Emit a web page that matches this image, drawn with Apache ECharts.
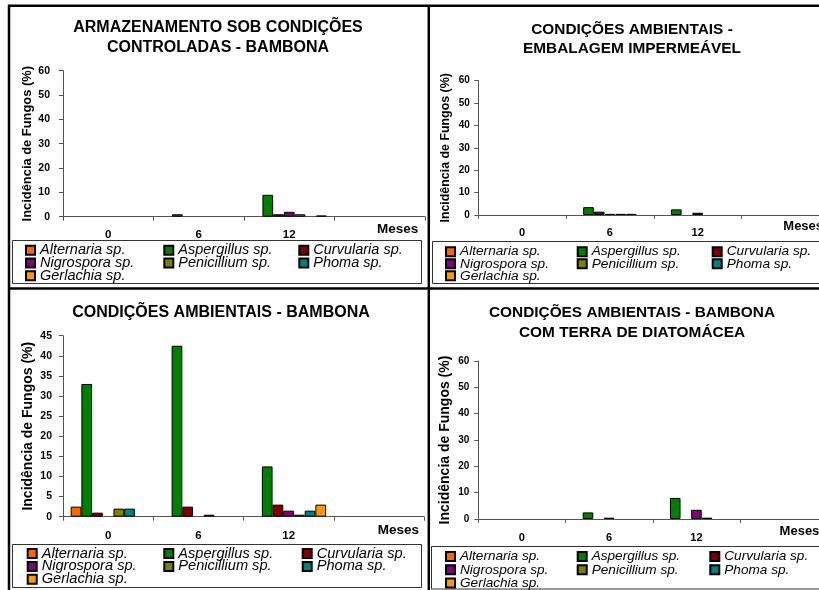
<!DOCTYPE html>
<html>
<head>
<meta charset="utf-8">
<script src="https://cdn.jsdelivr.net/npm/echarts@6/dist/echarts.min.js"></script>
<style>
  html, body { margin: 0; padding: 0; background: #fff; }
  #chart { width: 819px; height: 590px; }
</style>
</head>
<body>
<div id="chart"></div>
<script>
// Months of storage (the last slot is left empty)
const months = ['0', '6', '12', ''];

const species = ['Alternaria sp.', 'Aspergillus sp.', 'Curvularia sp.', 'Nigrospora sp.',
                 'Penicillium sp.', 'Phoma sp.', 'Gerlachia sp.'];
const speciesColors = ['#FF6600', '#008000', '#800000', '#800080', '#808000', '#008080', '#FF9900'];

// Fungal incidence (%) – one row per species, values for months 0, 6, 12
const controladasBambona = [
  [0, 0, 0],     // Alternaria
  [0, 1, 9],     // Aspergillus
  [0, 0, 1],     // Curvularia
  [0, 0, 2],     // Nigrospora
  [0, 0, 1],     // Penicillium
  [0, 0, 0],     // Phoma
  [0, 0, 0.5]    // Gerlachia
];
const embalagemImpermeavel = [
  [0, 0, 0],
  [0, 3.5, 2.5],
  [0, 1.5, 0],
  [0, 0.5, 1],
  [0, 0.5, 0],
  [0, 0.5, 0],
  [0, 0, 0]
];
const ambientaisBambona = [
  [2.5, 0, 0],
  [33, 42.5, 12.5],
  [1, 2.5, 3],
  [0, 0, 1.5],
  [2, 0.5, 0.5],
  [2, 0, 1.5],
  [0, 0, 3]
];
const bambonaDiatomacea = [
  [0, 0, 0],
  [0, 2.5, 8],
  [0, 0, 0],
  [0, 0.5, 3.5],
  [0, 0, 0.5],
  [0, 0, 0],
  [0, 0, 0]
];

const yTicks60 = { max: 60, interval: 10 };
const yTicks45 = { max: 45, interval: 5 };

const FONT = "'Liberation Sans', Arial, Helvetica, sans-serif";

// Layout of the four panels
const panels = [
  {
    data: controladasBambona, ticks: yTicks60,
    title: 'ARMAZENAMENTO SOB CONDIÇÕES\nCONTROLADAS - BAMBONA',
    titleX: 218, titleTop: 18.4, titleSize: 16, titleLH: 19.3,
    grid: { left: 63, top: 70.7, width: 362, height: 146 }, gap: '17%',
    yLabelSize: 10.5, yLabelMargin: 13, xLabelSize: 11.5, xLabelMargin: 11.8,
    nameSize: 12.9, nameGap: 29, mesesGap: -48, mesesOffset: 12.5, mesesSize: 13.5,
    legendCols: [25, 163.3, 298.3], legendRow1: 250, legendPitch: 12.3, legendSize: 14.5
  },
  {
    data: embalagemImpermeavel, ticks: yTicks60,
    title: 'CONDIÇÕES AMBIENTAIS -\nEMBALAGEM IMPERMEÁVEL',
    titleX: 632, titleTop: 20, titleSize: 15.4, titleLH: 19.4,
    grid: { left: 478.3, top: 80.7, width: 351, height: 134.3 }, gap: '14.5%',
    yLabelSize: 10, yLabelMargin: 8.5, xLabelSize: 11, xLabelMargin: 12.8,
    nameSize: 12.4, nameGap: 26.6, mesesGap: -46, mesesOffset: 11.7, mesesSize: 13,
    legendCols: [445, 576.7, 711.7], legendRow1: 251.5, legendPitch: 11.8, legendSize: 13.7
  },
  {
    data: ambientaisBambona, ticks: yTicks45,
    title: 'CONDIÇÕES AMBIENTAIS - BAMBONA',
    titleX: 221, titleTop: 302.7, titleSize: 16, titleLH: 19,
    grid: { left: 63, top: 335.7, width: 361, height: 181 }, gap: '17%',
    yLabelSize: 10.5, yLabelMargin: 11, xLabelSize: 11.5, xLabelMargin: 13.3,
    nameSize: 14, nameGap: 28.3, mesesGap: -46.3, mesesOffset: 13.3, mesesSize: 13.5,
    legendCols: [26.7, 163.3, 301.7], legendRow1: 553.3, legendPitch: 12.5, legendSize: 14.6
  },
  {
    data: bambonaDiatomacea, ticks: yTicks60,
    title: 'CONDIÇÕES AMBIENTAIS - BAMBONA\nCOM TERRA DE DIATOMÁCEA',
    titleX: 632, titleTop: 303.3, titleSize: 15.4, titleLH: 19.8,
    grid: { left: 478.3, top: 361, width: 349, height: 158 }, gap: '15%',
    yLabelSize: 10, yLabelMargin: 9, xLabelSize: 11, xLabelMargin: 13.5,
    nameSize: 14, nameGap: 25.8, mesesGap: -47.7, mesesOffset: 12.7, mesesSize: 13,
    legendCols: [445, 576.7, 709.3], legendRow1: 556.4, legendPitch: 12.8, legendSize: 13.6
  }
];

// Legend columns: species indices stacked in each column
const legendColumns = [[0, 3, 6], [1, 4], [2, 5]];

const AXIS_COLOR = '#555';

const titles = [], grids = [], xAxes = [], yAxes = [], series = [], legends = [];

panels.forEach((p, i) => {
  titles.push({
    text: p.title,
    left: p.titleX, top: p.titleTop, textAlign: 'center', padding: 0,
    textStyle: { fontFamily: FONT, fontWeight: 'bold', fontSize: p.titleSize,
                 lineHeight: p.titleLH, color: '#000' }
  });

  grids.push(Object.assign({ containLabel: false, outerBoundsMode: 'none' }, p.grid));

  xAxes.push({
    type: 'category', gridIndex: i, data: months, boundaryGap: true,
    axisLine: { lineStyle: { color: AXIS_COLOR, width: 1 } },
    axisTick: { show: true, length: 4, inside: false, lineStyle: { color: AXIS_COLOR } },
    axisLabel: { fontFamily: FONT, fontWeight: 'bold', fontSize: p.xLabelSize,
                 color: '#000', margin: p.xLabelMargin, interval: 0 },
    splitLine: { show: false },
    name: 'Meses', nameLocation: 'end', nameGap: p.mesesGap,
    nameTextStyle: { fontFamily: FONT, fontWeight: 'bold', fontSize: p.mesesSize, color: '#000',
                     verticalAlign: 'top', lineHeight: p.mesesOffset * 2 }
  });

  yAxes.push({
    type: 'value', gridIndex: i, min: 0, max: p.ticks.max, interval: p.ticks.interval,
    axisLine: { show: true, lineStyle: { color: AXIS_COLOR, width: 1 } },
    axisTick: { show: true, length: 4, inside: false, lineStyle: { color: AXIS_COLOR } },
    axisLabel: { fontFamily: FONT, fontWeight: 'bold', fontSize: p.yLabelSize,
                 color: '#000', margin: p.yLabelMargin },
    splitLine: { show: false },
    name: 'Incidência de Fungos (%)', nameLocation: 'middle', nameGap: p.nameGap,
    nameTextStyle: { fontFamily: FONT, fontWeight: 'bold', fontSize: p.nameSize, color: '#000' }
  });

  species.forEach((name, s) => {
    series.push({
      type: 'bar', name: name, xAxisIndex: i, yAxisIndex: i,
      // zero incidence draws no bar
      data: p.data[s].map(v => (v === 0 ? null : v)),
      barGap: '0%', barCategoryGap: p.gap,
      itemStyle: { color: speciesColors[s], borderColor: '#000', borderWidth: 1 },
      emphasis: { disabled: true },
      silent: true
    });
  });

  legendColumns.forEach((col, c) => {
    legends.push({
      orient: 'vertical', left: p.legendCols[c], top: p.legendRow1 - p.legendSize / 2,
      height: 80, padding: 0, itemGap: p.legendPitch - p.legendSize,
      itemWidth: 9, itemHeight: 9, icon: 'rect',
      selectedMode: false,
      data: col.map(s => species[s]),
      textStyle: { fontFamily: FONT, fontStyle: 'italic', fontSize: p.legendSize, color: '#000' }
    });
  });
});

// Panel frames and legend boxes
const legendBoxes = [
  { x: 12.5, y: 240.5, width: 409, height: 43 },
  { x: 432.5, y: 241.5, width: 400, height: 42 },
  { x: 12.5, y: 544.5, width: 409, height: 43 },
  { x: 431.5, y: 546.5, width: 400, height: 42.5 }
];
const frameLines = [
  [8, 5.8, 819, 5.8],
  [9, 5, 9, 590],
  [428.8, 5, 428.8, 590],
  [8, 288.6, 819, 288.6]
];

const graphic = [];
legendBoxes.forEach(b => graphic.push({
  type: 'rect', shape: b, z: -1,
  style: { fill: '#fff', stroke: '#333', lineWidth: 1 }
}));
frameLines.forEach(l => graphic.push({
  type: 'line', shape: { x1: l[0], y1: l[1], x2: l[2], y2: l[3] }, z: 10,
  style: { stroke: '#000', lineWidth: 2.5 }
}));

const chart = echarts.init(document.getElementById('chart'), null, { renderer: 'canvas' });
chart.setOption({
  backgroundColor: '#fff',
  animation: false,
  title: titles,
  grid: grids,
  xAxis: xAxes,
  yAxis: yAxes,
  legend: legends,
  series: series,
  graphic: graphic
});
</script>
</body>
</html>
